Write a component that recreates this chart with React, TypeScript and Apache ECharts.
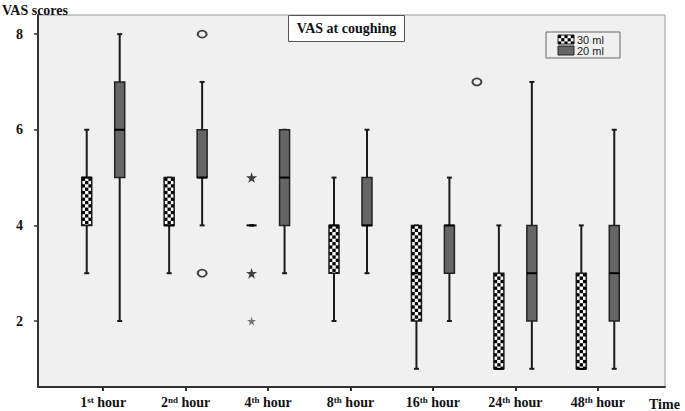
import React, { useEffect, useRef } from "react";
import * as echarts from "echarts";

const categories = ["1st", "2nd", "4th", "8th", "16th", "24th", "48th"];
const superscripts = ["st", "nd", "th", "th", "th", "th", "th"];
const numbers = ["1", "2", "4", "8", "16", "24", "48"];
const yTicks = [2, 4, 6, 8];

// [min, q1, median, q3, max]
const box30ml = [
  [3, 4, 5, 5, 6],
  [3, 4, 4, 5, 5],
  [4, 4, 4, 4, 4],
  [2, 3, 4, 4, 5],
  [1, 2, 3, 4, 4],
  [1, 1, 1, 3, 4],
  [1, 1, 1, 3, 4],
];
const box20ml = [
  [2, 5, 6, 7, 8],
  [4, 5, 5, 6, 7],
  [3, 4, 5, 6, 6],
  [3, 4, 4, 5, 6],
  [2, 3, 4, 4, 5],
  [1, 2, 3, 4, 7],
  [1, 2, 3, 4, 6],
];
const outliers20ml = [
  [1, 8],
  [1, 3],
  [4, 7],
];
const extremes30ml = [
  [2, 5],
  [2, 3],
];
const extremesSmall30ml = [[2, 2]];

const SERIF = "Liberation Serif";
const STAR =
  "path://M50,0 L61,35 L98,35 L68,57 L79,91 L50,70 L21,91 L32,57 L2,35 L39,35 Z";

function checkerRects(x: number, y: number, w: number, h: number, cell: number) {
  const out: any[] = [];
  const cols = Math.round(w / cell);
  for (let r = 0; y + r * cell < y + h - 0.01; r++) {
    for (let c = 0; c < cols; c++) {
      if ((r + c) % 2 === 0) {
        const yy = y + r * cell;
        out.push({
          type: "rect",
          shape: { x: x + c * cell, y: yy, width: cell, height: Math.min(cell, y + h - yy) },
          style: { fill: "#000" },
        });
      }
    }
  }
  return out;
}

export default function App() {
  const ref = useRef<HTMLDivElement>(null);
  useEffect(() => {
    const chart = echarts.init(ref.current!, null, { renderer: "svg" });
    const boxData: any[] = [];
    box30ml.forEach((b, i) => boxData.push([i, 0, ...b]));
    box20ml.forEach((b, i) => boxData.push([i, 1, ...b]));

    const renderItem = (params: any, api: any) => {
      const cat = api.value(0);
      const grp = api.value(1);
      const bw = api.size([1, 0])[0];
      const cx = api.coord([cat, 0])[0] + (grp === 0 ? -0.2 : 0.2) * bw;
      const Y = (v: number) => api.coord([cat, v])[1];
      const mn = Y(api.value(2));
      const q1 = Y(api.value(3));
      const md = Y(api.value(4));
      const q3 = Y(api.value(5));
      const mx = Y(api.value(6));
      const w = 10;
      const cap = 5;
      const lineStyle = { stroke: "#1a1a1a", lineWidth: 2 };
      const children: any[] = [
        { type: "line", shape: { x1: cx, y1: mx, x2: cx, y2: mn }, style: lineStyle },
        { type: "line", shape: { x1: cx - cap / 2, y1: mx, x2: cx + cap / 2, y2: mx }, style: lineStyle },
        { type: "line", shape: { x1: cx - cap / 2, y1: mn, x2: cx + cap / 2, y2: mn }, style: lineStyle },
      ];
      const top = q3;
      const h = q1 - q3;
      if (h > 0) {
        if (grp === 0) {
          children.push({
            type: "rect",
            shape: { x: cx - w / 2, y: top, width: w, height: h },
            style: { fill: "#fff", stroke: "none" },
          });
          children.push(...checkerRects(cx - w / 2, top, w, h, w / 3));
          children.push({
            type: "rect",
            shape: { x: cx - w / 2, y: top, width: w, height: h },
            style: { fill: "none", stroke: "#1a1a1a", lineWidth: 1.5 },
          });
        } else {
          children.push({
            type: "rect",
            shape: { x: cx - w / 2, y: top, width: w, height: h },
            style: { fill: "#666", stroke: "#222", lineWidth: 1.5 },
          });
        }
      }
      children.push({
        type: "line",
        shape: { x1: cx - w / 2, y1: md, x2: cx + w / 2, y2: md },
        style: { stroke: "#000", lineWidth: 2 },
      });
      return { type: "group", children };
    };

    const legendChecker = checkerRects(558, 35, 16, 9, 16 / 5);

    chart.setOption({
      animation: false,
      backgroundColor: "#fff",
      grid: [
        {
          left: 38,
          right: 20,
          top: 15,
          bottom: 24,
          show: true,
          backgroundColor: "#f0f0f0",
          borderColor: "#999",
          borderWidth: 1,
        },
        { left: 62, right: 46, top: 15, bottom: 24, show: false },
      ],
      xAxis: [
        {
          gridIndex: 0,
          type: "value",
          min: 0,
          max: 1,
          axisLine: { show: true, onZero: false, lineStyle: { color: "#333", width: 2 } },
          axisTick: { show: false },
          axisLabel: { show: false },
          splitLine: { show: false },
        },
        {
          gridIndex: 1,
          type: "category",
          data: categories,
          boundaryGap: true,
          axisLine: { show: false },
          axisTick: {
            show: true,
            alignWithLabel: true,
            interval: 0,
            length: 4,
            lineStyle: { color: "#333", width: 2 },
          },
          axisLabel: {
            interval: 0,
            margin: 8,
            formatter: (v: string, i: number) => `{n|${numbers[i]}}{s|${superscripts[i]}}{n| hour}`,
            rich: {
              n: { fontFamily: SERIF, fontWeight: "bold", fontSize: 14, color: "#111" },
              s: { fontFamily: SERIF, fontWeight: "bold", fontSize: 9, color: "#111", verticalAlign: "top" },
            },
          },
          splitLine: { show: false },
        },
      ],
      yAxis: [
        {
          gridIndex: 0,
          type: "value",
          min: 0.62,
          max: 8.4,
          axisLine: { show: true, lineStyle: { color: "#333", width: 2 } },
          axisTick: { show: true, length: 4, customValues: yTicks, lineStyle: { color: "#333", width: 1.5 } },
          axisLabel: {
            customValues: yTicks,
            margin: 15,
            fontFamily: SERIF,
            fontWeight: "bold",
            fontSize: 14,
            color: "#111",
          },
          splitLine: { show: false },
        },
        {
          gridIndex: 1,
          type: "value",
          min: 0.62,
          max: 8.4,
          show: false,
        },
      ],
      series: [
        {
          type: "custom",
          xAxisIndex: 1,
          yAxisIndex: 1,
          renderItem,
          data: boxData,
          encode: { x: 0, y: [2, 3, 4, 5, 6] },
          z: 2,
        },
        {
          type: "scatter",
          xAxisIndex: 1,
          yAxisIndex: 1,
          data: outliers20ml.map((d, i) =>
            i === 2 ? { value: d, symbolOffset: [44, 0] } : { value: d }
          ),
          symbol: "circle",
          symbolSize: [9, 7],
          symbolOffset: [16.5, 0],
          itemStyle: { color: "#f0f0f0", borderColor: "#111", borderWidth: 1.8 },
          z: 3,
        },
        {
          type: "scatter",
          xAxisIndex: 1,
          yAxisIndex: 1,
          data: extremes30ml,
          symbol: STAR,
          symbolSize: 11,
          symbolOffset: [-16.5, 0],
          itemStyle: { color: "#111" },
          z: 3,
        },
        {
          type: "scatter",
          xAxisIndex: 1,
          yAxisIndex: 1,
          data: extremesSmall30ml,
          symbol: STAR,
          symbolSize: 9,
          symbolOffset: [-16.5, 0],
          itemStyle: { color: "#555" },
          z: 3,
        },
      ],
      graphic: [
        {
          type: "text",
          left: 2,
          top: 3,
          style: { text: "VAS scores", font: `bold 14px "${SERIF}"`, fill: "#111" },
        },
        {
          type: "text",
          left: 649,
          top: 397,
          style: { text: "Time", font: `bold 14px "${SERIF}"`, fill: "#111" },
        },
        {
          type: "group",
          left: 288,
          top: 15,
          children: [
            {
              type: "rect",
              shape: { x: 0, y: 0, width: 116, height: 26 },
              style: { fill: "#fff", stroke: "#555", lineWidth: 1 },
            },
            {
              type: "text",
              x: 58,
              y: 13,
              style: {
                text: "VAS at coughing",
                font: `bold 14px "${SERIF}"`,
                fill: "#111",
                align: "center",
                verticalAlign: "middle",
              },
            },
          ],
        },
        {
          type: "rect",
          shape: { x: 546, y: 32, width: 74, height: 26 },
          style: { fill: "#f0f0f0", stroke: "#666", lineWidth: 1 },
        },
        { type: "rect", shape: { x: 558, y: 35, width: 16, height: 9 }, style: { fill: "#fff" } },
        ...legendChecker,
        {
          type: "rect",
          shape: { x: 558, y: 35, width: 16, height: 9 },
          style: { fill: "none", stroke: "#222", lineWidth: 1 },
        },
        {
          type: "rect",
          shape: { x: 558, y: 46, width: 16, height: 9 },
          style: { fill: "#666", stroke: "#222", lineWidth: 1 },
        },
        {
          type: "text",
          x: 577,
          y: 40,
          style: { text: "30 ml", font: '11px "Liberation Sans"', fill: "#222", verticalAlign: "middle" },
        },
        {
          type: "text",
          x: 577,
          y: 51,
          style: { text: "20 ml", font: '11px "Liberation Sans"', fill: "#222", verticalAlign: "middle" },
        },
      ],
    });
    return () => chart.dispose();
  }, []);
  return (
    <div
      ref={ref}
      style={{ position: "fixed", left: 0, top: 0, width: 685, height: 411 }}
    />
  );
}
